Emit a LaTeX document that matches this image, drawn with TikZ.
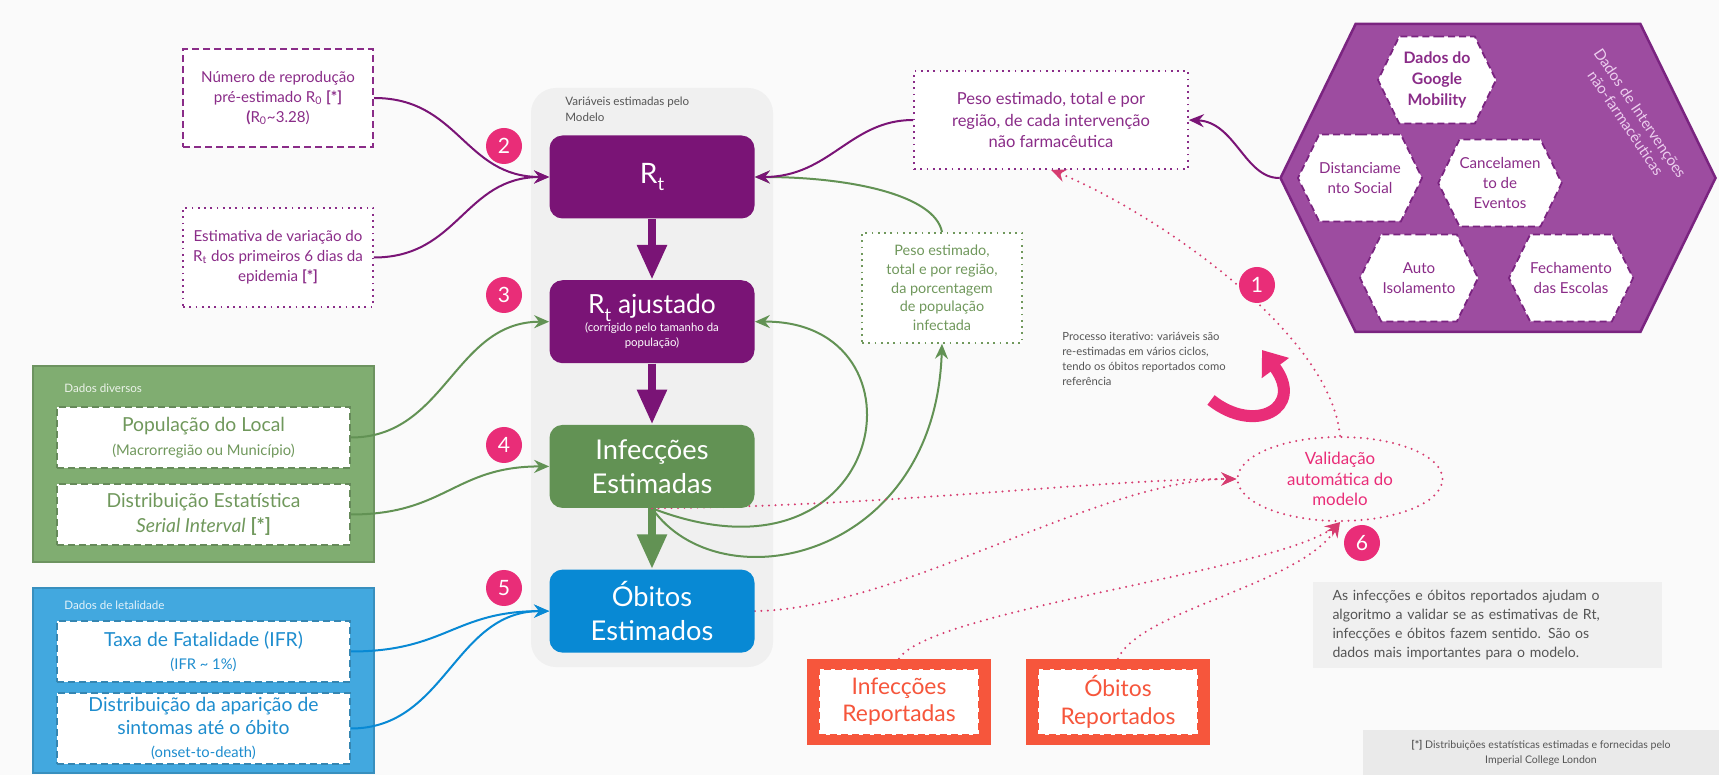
\documentclass[tikz,border=0pt]{standalone}
\usepackage{fontspec}
\setmainfont{Lato}
\usepackage{xcolor}
\usepackage{tikz}
\usetikzlibrary{shapes.geometric, shapes.symbols, arrows.meta, positioning}

\definecolor{fundo}{RGB}{250,250,250}
\definecolor{roxo}{RGB}{122,20,118}
\definecolor{roxotxt}{RGB}{138,44,136}
\definecolor{roxohex}{RGB}{157,76,160}
\definecolor{roxoborda}{RGB}{122,36,128}
\definecolor{roxoclaro}{RGB}{236,205,238}
\definecolor{verde}{RGB}{98,146,84}
\definecolor{verdepainel}{RGB}{128,173,113}
\definecolor{verdetxt}{RGB}{112,152,92}
\definecolor{azul}{RGB}{8,137,212}
\definecolor{azulpainel}{RGB}{66,168,223}
\definecolor{azultxt}{RGB}{30,141,206}
\definecolor{rosa}{RGB}{233,45,120}
\definecolor{rosalinha}{RGB}{214,60,112}
\definecolor{laranja}{RGB}{246,86,60}
\definecolor{cinza}{RGB}{240,240,240}
\definecolor{cinzaesc}{RGB}{234,234,234}
\definecolor{cinzatxt}{RGB}{85,85,85}

\newcommand{\rsub}[1]{\raisebox{-0.55ex}{\fontsize{10.5}{10.5}\selectfont #1}}

\pgfdeclarelayer{bg}
\pgfdeclarelayer{setas}
\pgfsetlayers{bg,setas,main}

\begin{document}
\begin{tikzpicture}[
  x=0.2mm, y=-0.2mm,
  node distance=12.2mm,
  modelbox/.style={rectangle, rounded corners=2.6mm, fill=#1, text=white,
                   minimum width=41mm, minimum height=16.6mm, align=center, inner sep=0.5mm},
  panel/.style={rectangle, fill=#1, draw=#1!85!black, line width=0.3mm, inner sep=0pt},
  inbox/.style={rectangle, fill=white, line width=0.35mm, dash pattern=on 1.4mm off 0.8mm,
                align=center, inner sep=0.5mm},
  dotbox/.style={rectangle, fill=white, line width=0.35mm, dash pattern=on 0.35mm off 0.9mm,
                 align=center, inner sep=0.5mm},
  hexa/.style={signal, signal to=east and west, signal pointer angle=128, fill=roxohex,
               draw=roxoborda, line width=0.5mm, minimum width=87mm, minimum height=61.6mm},
  hexin/.style={signal, signal to=east and west, signal pointer angle=128, fill=white,
                draw=roxoborda, line width=0.35mm, dash pattern=on 1.4mm off 0.8mm,
                minimum width=23.6mm, minimum height=17.4mm, inner sep=0pt, align=center,
                text=roxotxt, font=\fontsize{8.6}{11.5}\selectfont},
  numcirc/.style={circle, fill=rosa, text=white, minimum size=7.2mm, inner sep=0pt,
                  font=\fontsize{12}{12}\selectfont},
  ponta/.style={-{Stealth[length=3mm, width=2.6mm, inset=1mm]}},
  conn/.style={ponta, draw=#1, line width=0.4mm},
  dotarrow/.style={ponta, draw=rosalinha, line width=0.45mm, line cap=round,
                   dash pattern=on 0mm off 1.3mm},
  fatarrow/.style={-{Triangle[length=7mm, width=5.6mm]}, draw=#1, line width=1.7mm},
  volta/.style={-{Triangle[length=4.5mm, width=6.5mm]}, draw=rosa, line width=2.4mm},
  repbox/.style={rectangle, fill=laranja, minimum width=36.8mm, minimum height=17.2mm},
  repin/.style={rectangle, fill=white, draw=laranja, line width=0.4mm,
                dash pattern=on 1.4mm off 0.8mm, minimum width=32mm, minimum height=13.2mm,
                align=center, text=laranja, font=\fontsize{13}{15.5}\selectfont},
  lbl/.style={align=left, inner sep=0pt}
]
\useasboundingbox (0,0) rectangle (1719,775);

\begin{pgfonlayer}{bg}
  \fill[fundo] (0,0) rectangle (1719,775);
  \node[rectangle, rounded corners=5mm, fill=cinza, minimum width=48.4mm,
        minimum height=115.8mm] (modelo) at (652,377.5) {};
  \node[panel=verdepainel, minimum width=68.2mm, minimum height=39.2mm] (diversos) at (203.5,464) {};
  \node[panel=azulpainel, minimum width=68.2mm, minimum height=37mm] (letal) at (203.5,680.5) {};
\end{pgfonlayer}

\node[anchor=north west, lbl, text=cinzatxt, font=\fontsize{6.6}{8.6}\selectfont]
  (modelolbl) at (565,97) {Variáveis estimadas pelo\\Modelo};

\node[modelbox=roxo, font=\fontsize{16}{18}\selectfont] (rt) at (652,177) {R\rsub{t}};
\node[modelbox=roxo, below=of rt, font=\fontsize{6.5}{8.5}\selectfont] (rtaj)
  {{\fontsize{15}{16}\selectfont R\rsub{t} ajustado}\\(corrigido pelo tamanho da\\população)};
\node[modelbox=verde, below=of rtaj, font=\fontsize{15.5}{19.5}\selectfont] (inf) {Infecções\\Estimadas};
\node[modelbox=azul, below=of inf, font=\fontsize{15.5}{19.5}\selectfont] (obe) {Óbitos\\Estimados};

\node[numcirc] (n2) at (504,146) {2};
\node[numcirc] (n3) at (504,295) {3};
\node[numcirc] (n4) at (504,445) {4};
\node[numcirc] (n5) at (504,588) {5};
\node[numcirc] (n1) at (1257,285) {1};
\node[numcirc] (n6) at (1362,543) {6};

\node[inbox, draw=roxotxt, text=roxotxt, minimum width=38mm, minimum height=19.6mm,
      line width=0.45mm, font=\fontsize{8.6}{11.4}\selectfont] (r0box) at (278,98)
  {Número de reprodução\\pré-estimado R\textsubscript{0} \textbf{[*]}\\\textbf{(}R\textsubscript{0}\textasciitilde3.28)};
\node[dotbox, draw=roxotxt, text=roxotxt, minimum width=38mm, minimum height=19.8mm,
      font=\fontsize{8.6}{11.4}\selectfont] (rtvar) at (278,257.5)
  {Estimativa de variação do\\R\textsubscript{t} dos primeiros 6 dias da\\epidemia \textbf{[*]}};

\node[anchor=west, lbl, text=white!85!verdepainel, font=\fontsize{6.6}{8}\selectfont]
  (diversoslbl) at (64,388) {Dados diversos};
\node[inbox, draw=verdepainel!80!black, text=verdetxt, minimum width=58.6mm, minimum height=12.2mm,
      font=\fontsize{11}{13.5}\selectfont] (popbox) at (203.5,437.5)
  {População do Local\\{\fontsize{8.4}{10}\selectfont (Macrorregião ou Município)}};
\node[inbox, draw=verdepainel!80!black, text=verdetxt, minimum width=58.6mm, minimum height=12.2mm,
      font=\fontsize{11}{14}\selectfont] (sibox) at (203.5,514.5)
  {Distribuição Estatística\\\textit{Serial Interval} \textbf{[*]}};

\node[anchor=west, lbl, text=white!85!azulpainel, font=\fontsize{6.6}{8}\selectfont]
  (letallbl) at (64,605) {Dados de letalidade};
\node[inbox, draw=azulpainel!80!black, text=azultxt, minimum width=58.6mm, minimum height=12.2mm,
      font=\fontsize{11}{13.5}\selectfont] (ifrbox) at (203.5,651.5)
  {Taxa de Fatalidade (IFR)\\{\fontsize{8.4}{10}\selectfont (IFR \textasciitilde{} 1\%)}};
\node[inbox, draw=azulpainel!80!black, text=azultxt, minimum width=58.6mm, minimum height=14.2mm,
      font=\fontsize{11}{13.3}\selectfont] (otdbox) at (203.5,728.5)
  {Distribuição da aparição de\\sintomas até o óbito\\{\fontsize{8.4}{10}\selectfont (onset-to-death)}};

\node[dotbox, draw=roxotxt, text=roxotxt, minimum width=54.8mm, minimum height=19.6mm,
      font=\fontsize{9.4}{12.2}\selectfont] (pesonpi) at (1051,120)
  {Peso estimado, total e por\\região, de cada intervenção\\não farmacêutica};
\node[dotbox, draw=verdetxt, text=verdetxt, minimum width=32mm, minimum height=22mm,
      font=\fontsize{8.2}{10.6}\selectfont] (pesoinf) at (942,288)
  {Peso estimado,\\total e por região,\\da porcentagem\\de população\\infectada};

\node[hexa] (npi) at (1498,178) {};
\node[rotate=-56, align=center, text=roxoclaro, font=\fontsize{8.6}{10}\selectfont]
  (npilbl) at (1633,118) {Dados de Intervenções\\não-farmacêuticas};
\node[hexin, font=\bfseries\fontsize{9}{11.7}\selectfont] (google) at (1437,80) {Dados do\\Google\\Mobility};
\node[hexin] (distsoc) at (1360,178) {Distanciame\\nto Social};
\node[hexin] (cancel) at (1500,183) {Cancelamen\\to de\\Eventos};
\node[hexin] (autoiso) at (1419,278) {Auto\\Isolamento};
\node[hexin] (escolas) at (1571,278) {Fechamento\\das Escolas};

\node[ellipse, draw=rosalinha, line width=0.45mm, line cap=round, dash pattern=on 0mm off 1.3mm,
      text=rosa, minimum width=41mm, minimum height=16.8mm, align=center, inner sep=0pt,
      font=\fontsize{9.6}{11.5}\selectfont] (valid) at (1340,479) {Validação\\automática do\\modelo};

\node[anchor=north west, lbl, text=cinzatxt, font=\fontsize{6.4}{8.6}\selectfont] (iterlbl) at (1062,332)
  {Processo iterativo: variáveis são\\re-estimadas em vários ciclos,\\tendo os óbitos reportados como\\referência};
\coordinate (voltaA) at (1211,400);
\coordinate (voltaB) at (1262,350);

\node[repbox] (infrep) at (899,702) {};
\node[repin] (infreptxt) at (infrep) {Infecções\\Reportadas};
\node[repbox] (obrep) at (1118,702) {};
\node[repin] (obreptxt) at (obrep) {Óbitos\\Reportados};

\node[rectangle, fill=cinza, minimum width=69.8mm, minimum height=17.2mm, text width=62mm, align=left,
      text=cinzatxt, font=\fontsize{8}{10.9}\selectfont] (nota) at (1487.5,625)
  {As infecções e óbitos reportados ajudam o\\algoritmo a validar se as estimativas de Rt,\\infecções e óbitos fazem sentido. São os\\dados mais importantes para o modelo.};
\node[rectangle, fill=cinzaesc, minimum width=71.2mm, minimum height=9mm, align=center,
      text=cinzatxt, font=\fontsize{6}{8.5}\selectfont] (rodape) at (1541,752.5)
  {\textbf{[*]} Distribuições estatísticas estimadas e fornecidas pelo\\Imperial College London};

\begin{pgfonlayer}{setas}
\draw[conn=roxo] (r0box.east) .. controls +(85,0) and +(-85,0) .. (rt.west);
\draw[conn=roxo] (rtvar.east) .. controls +(85,0) and +(-85,0) .. (rt.west);
\draw[conn=verde] (popbox.east) .. controls +(95,0) and +(-95,0) .. (rtaj.west);
\draw[conn=verde] (sibox.east) .. controls +(95,0) and +(-95,0) .. (inf.west);
\draw[conn=azul] (ifrbox.east) .. controls +(95,0) and +(-95,0) .. (obe.west);
\draw[conn=azul] (otdbox.east) .. controls +(95,0) and +(-95,0) .. (obe.west);
\draw[fatarrow=roxo] (rt) -- (rtaj);
\draw[fatarrow=roxo] (rtaj) -- (inf);
\draw[fatarrow=verde] (inf) -- (obe);
\draw[conn=verde] (inf.south) .. controls (890,600) and (935,320) .. (rtaj.east);
\draw[conn=verde] (inf.south) .. controls (720,605) and (935,560) .. (pesoinf.south);
\draw[conn=verde] (pesoinf.north) .. controls (935,195) and (850,177) .. (rt.east);
\draw[conn=roxo] (pesonpi.west) .. controls (850,120) and (830,177) .. (rt.east);
\draw[conn=roxo] (npi.west) .. controls (1245,178) and (1235,122) .. (pesonpi.east);
\draw[dotarrow] (inf.south) .. controls (900,506) and (1100,479) .. (valid.west);
\draw[dotarrow] (obe.east) .. controls (900,609) and (1100,479) .. (valid.west);
\draw[dotarrow] (infrep.north) .. controls (930,610) and (1280,570) .. (valid.south);
\draw[dotarrow] (obrep.north) .. controls (1140,610) and (1300,585) .. (valid.south);
\draw[dotarrow] (valid.north) .. controls (1330,330) and (1150,210) .. (pesonpi.south);
\draw[volta] (voltaA) .. controls (1255,435) and (1305,408) .. (voltaB);
\end{pgfonlayer}
\end{tikzpicture}
\end{document}
